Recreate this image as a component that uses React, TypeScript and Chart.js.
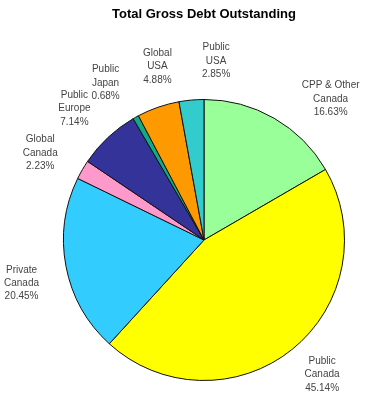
import React, { useEffect, useRef } from "react";
import { Chart, registerables } from "chart.js";

Chart.register(...registerables);

const TITLE = "Total Gross Debt Outstanding";
const categories = [
  ["CPP & Other", "Canada"],
  ["Public", "Canada"],
  ["Private", "Canada"],
  ["Global", "Canada"],
  ["Public", "Europe"],
  ["Public", "Japan"],
  ["Global", "USA"],
  ["Public", "USA"],
];
const values = [16.63, 45.14, 20.45, 2.23, 7.14, 0.68, 4.88, 2.85];
const colors = ["#99FF99", "#FFFF00", "#33CCFF", "#FF99CC", "#333399", "#11AA88", "#FF9900", "#33CCCC"];
// label placement tweaks (degrees of rotation, extra distance beyond the rim)
const labelAngleNudge = [12, -2.4, -2.5, -2, -1.5, -3, 4, 9];
const labelDistance = [49, 38.5, 47, 45, 44, 45, 39, 39];

const labelPlugin = {
  id: "outerLabels",
  afterDraw(chart: any) {
    const ctx = chart.ctx;
    ctx.save();
    // title
    ctx.fillStyle = "#000";
    ctx.font = "bold 13px 'Liberation Sans', Arial, sans-serif";
    ctx.textAlign = "center";
    ctx.textBaseline = "middle";
    ctx.fillText(TITLE, 204, 14);

    const meta = chart.getDatasetMeta(0);
    ctx.font = "10px 'Liberation Sans', Arial, sans-serif";
    ctx.fillStyle = "#444";
    meta.data.forEach((arc: any, i: number) => {
      const p = arc.getProps(["x", "y", "startAngle", "endAngle", "outerRadius"], true);
      const mid = (p.startAngle + p.endAngle) / 2 + (labelAngleNudge[i] * Math.PI) / 180;
      const d = p.outerRadius + labelDistance[i];
      const cx = p.x + Math.cos(mid) * d;
      const cy = p.y + Math.sin(mid) * d;
      const lines = [...categories[i], values[i].toFixed(2) + "%"];
      const lh = 13.3;
      lines.forEach((t, k) => {
        ctx.fillText(t, cx, cy + (k - 1) * lh);
      });
    });
    ctx.restore();
  },
};

export default function App() {
  const ref = useRef<HTMLCanvasElement>(null);
  useEffect(() => {
    document.body.style.margin = "0";
    const chart = new Chart(ref.current!, {
      type: "pie",
      data: {
        labels: categories.map((c) => c.join(" ")),
        datasets: [
          {
            data: values,
            backgroundColor: colors,
            borderColor: "#111",
            borderWidth: 1,
          },
        ],
      },
      options: {
        animation: false,
        responsive: false,
        layout: { padding: { left: 63, right: 37, top: 99, bottom: 19 } },
        plugins: {
          legend: { display: false },
          title: { display: false },
          tooltip: { enabled: false },
        },
      },
      plugins: [labelPlugin],
    });
    return () => chart.destroy();
  }, []);
  return (
    <div style={{ width: 382, height: 400, background: "#fff" }}>
      <canvas ref={ref} width={382} height={400} />
    </div>
  );
}
